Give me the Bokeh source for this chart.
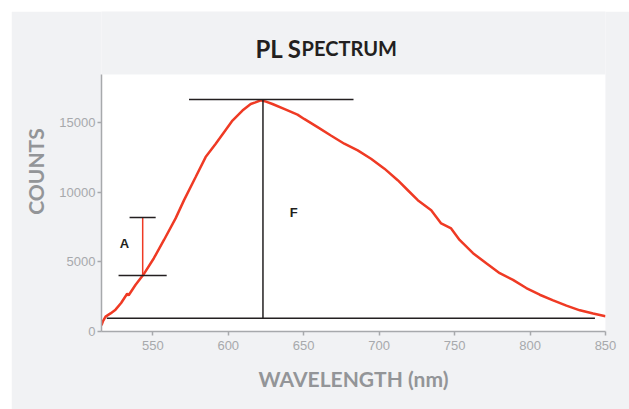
from bokeh.plotting import figure
from bokeh.models import Range1d, Label, FixedTicker, BoxAnnotation
from bokeh.embed import file_html
from bokeh.resources import INLINE

# spectrum
wavelength = [516, 517, 518.7, 522, 525.3, 529, 533, 534, 538.6, 543.7, 550.7, 557.4, 565.1,
              570.7, 578.4, 585, 591.7, 597.2, 602.8, 609.4, 614.9, 618, 621.6, 625, 629.3,
              637, 645.9, 650.3, 659.2, 668, 676.9, 685.8, 694.6, 703.5, 712.3, 719, 725.6,
              734.5, 741.1, 747.7, 753.3, 762.2, 771, 779.9, 788.7, 797.5, 806.4, 815.3,
              824.1, 833, 841.8, 850]
counts = [450, 750, 1070, 1300, 1570, 2050, 2710, 2600, 3360, 4070, 5260, 6570, 8120,
          9430, 11090, 12520, 13480, 14310, 15140, 15860, 16330, 16450, 16600, 16500, 16330,
          15980, 15570, 15260, 14670, 14070, 13480, 13000, 12400, 11690, 10860, 10140, 9430,
          8710, 7760, 7400, 6570, 5620, 4900, 4190, 3710, 3120, 2640, 2240,
          1860, 1520, 1290, 1100]

x_ticks = [550, 600, 650, 700, 750, 800, 850]
y_ticks = [0, 5000, 10000, 15000]
x_min, x_max = 516, 850
y_min, y_max = 0, 18450          # extent of the white plotting area
y_view_top = 22972               # frame reaches up to hold the title

# annotation geometry (data units)
base_x = [519.5, 843]
base_y = [950, 950]
f_x = [623, 623]
f_y = [950, 16650]
f_top_x = [574, 683]
f_top_y = [16650, 16650]
a_x = [543.3, 543.3]
a_y = [4020, 8190]
a_top_x = [534.6, 551.9]
a_top_y = [8190, 8190]
a_bot_x = [527.3, 559.2]
a_bot_y = [4020, 4020]

RED = "#ef3a24"
INK = "#231f20"
GRAY = "#939598"
TICK = "#a7a9ac"
BG = "#f1f2f4"

p = figure(width=618, height=398, output_backend="svg", toolbar_location=None, title=None,
           x_range=Range1d(x_min, x_max), y_range=Range1d(y_min, y_view_top),
           min_border_left=90, min_border_right=24, min_border_top=0, min_border_bottom=78,
           styles={"margin-left": "11px", "margin-top": "11px"})
p.border_fill_color = BG
p.background_fill_color = BG
p.outline_line_color = None
p.grid.grid_line_color = None

p.add_layout(BoxAnnotation(left=x_min, right=x_max, bottom=y_min, top=y_max,
                           fill_color="white", fill_alpha=1, line_color=None, level="underlay"))

for ax in (p.xaxis[0], p.yaxis[0]):
    ax.axis_line_color = TICK
    ax.axis_line_width = 1.5
    ax.major_tick_line_color = TICK
    ax.major_tick_line_width = 1.5
    ax.major_tick_out = 4
    ax.major_tick_in = 0
    ax.minor_tick_line_color = None
    ax.major_label_text_color = TICK
    ax.major_label_text_font = "Liberation Sans"
    ax.major_label_text_font_size = "13px"
    ax.axis_label_text_color = GRAY
    ax.axis_label_text_font = "Lato"
    ax.axis_label_text_font_style = "bold"
    ax.axis_label_text_font_size = "21px"

p.yaxis.bounds = (y_min, y_max)
p.xaxis.ticker = FixedTicker(ticks=x_ticks)
p.yaxis.ticker = FixedTicker(ticks=y_ticks)
p.xaxis.axis_label = "WAVELENGTH (nm)"
p.yaxis.axis_label = "COUNTS"
p.xaxis.major_label_standoff = 5
p.yaxis.major_label_standoff = 2
p.xaxis.axis_label_standoff = 13
p.yaxis.axis_label_standoff = 8

p.line(wavelength, counts, line_color=RED, line_width=2.5)

p.line(base_x, base_y, line_color=INK, line_width=1.5)
p.line(f_x, f_y, line_color=INK, line_width=1.5)
p.line(f_top_x, f_top_y, line_color=INK, line_width=1.5)
p.line(a_x, a_y, line_color=RED, line_width=1.5)
p.line(a_top_x, a_top_y, line_color=INK, line_width=1.5)
p.line(a_bot_x, a_bot_y, line_color=INK, line_width=1.5)

p.add_layout(Label(x=531.2, y=6317, text="A", text_font="Liberation Sans", text_font_style="bold",
                   text_font_size="13px", text_color=INK, text_align="center", text_baseline="middle"))
p.add_layout(Label(x=643.4, y=8520, text="F", text_font="Liberation Sans", text_font_style="bold",
                   text_font_size="13px", text_color=INK, text_align="center", text_baseline="middle"))

# title in small caps
p.add_layout(Label(x=618, y=20330, text="PL S", text_font="Lato",
                   text_font_style="bold", text_font_size="24px", text_color=INK,
                   text_align="left", text_baseline="alphabetic"))
p.add_layout(Label(x=648.6, y=20330, text="PECTRUM", text_font="Lato",
                   text_font_style="bold", text_font_size="20px", text_color=INK,
                   text_align="left", text_baseline="alphabetic"))

open("out.html", "w").write(file_html(p, INLINE))
